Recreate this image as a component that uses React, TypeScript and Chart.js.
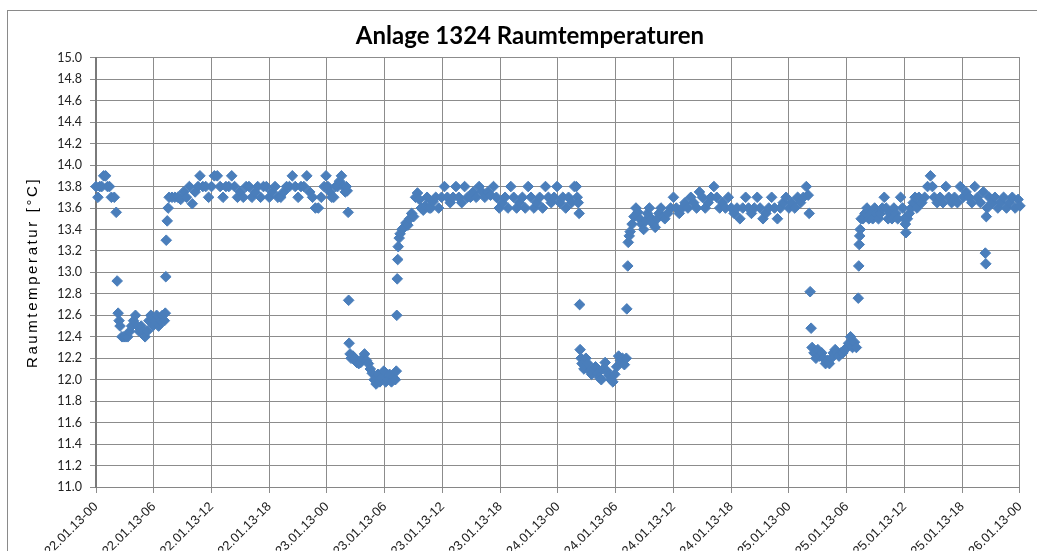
import React, { useEffect, useRef } from 'react';
import { Chart, registerables } from 'chart.js';

Chart.register(...registerables);

// Hours since 22.01.13 00:00 and room temperature [°C]
const day1Hours = [0.0, 0.2, 0.4, 0.6, 0.8, 1.0, 1.2, 1.4, 1.6, 1.9, 2.1, 2.2, 2.3, 2.4, 2.5, 2.7, 2.9, 3.1, 3.3, 3.5, 3.7, 3.9, 4.1, 4.3, 4.5, 4.7, 4.9, 5.1, 5.3, 5.5, 5.7, 5.9, 6.1, 6.3, 6.5, 6.7, 6.9, 7.1, 7.2, 7.25, 7.3, 7.4, 7.5, 7.6, 7.9, 8.2, 8.5, 8.8, 9.1, 9.4, 9.7, 10.0, 10.3, 10.6, 10.8, 11.1, 11.4, 11.7, 12.0, 12.3, 12.6, 12.9, 13.2, 13.5, 13.8, 14.1, 14.4, 14.7, 15.0, 15.3, 15.6, 15.9, 16.2, 16.5, 16.8, 17.1, 17.4, 17.7, 18.0, 18.3, 18.6, 18.9, 19.2, 19.5, 19.8, 20.1, 20.4, 20.7, 21.0, 21.3, 21.6, 21.9, 22.2, 22.5, 22.8, 23.1, 23.4, 23.7, 23.9];
const day1Temps = [13.8, 13.7, 13.8, 13.8, 13.9, 13.9, 13.8, 13.8, 13.7, 13.7, 13.56, 12.92, 12.62, 12.55, 12.5, 12.4, 12.4, 12.4, 12.4, 12.45, 12.5, 12.55, 12.6, 12.5, 12.45, 12.5, 12.45, 12.4, 12.45, 12.55, 12.6, 12.5, 12.55, 12.6, 12.5, 12.55, 12.6, 12.55, 12.62, 12.96, 13.3, 13.48, 13.6, 13.7, 13.7, 13.7, 13.7, 13.68, 13.75, 13.7, 13.8, 13.64, 13.75, 13.8, 13.9, 13.8, 13.8, 13.7, 13.8, 13.9, 13.9, 13.8, 13.7, 13.8, 13.8, 13.9, 13.8, 13.7, 13.75, 13.7, 13.8, 13.8, 13.7, 13.75, 13.8, 13.7, 13.8, 13.8, 13.7, 13.75, 13.8, 13.7, 13.7, 13.75, 13.8, 13.8, 13.9, 13.8, 13.7, 13.8, 13.8, 13.9, 13.75, 13.7, 13.6, 13.6, 13.7, 13.8, 13.9];

const day2Hours = [24.1, 24.3, 24.5, 24.7, 24.9, 25.1, 25.3, 25.5, 25.7, 25.9, 26.0, 26.1, 26.2, 26.25, 26.3, 26.4, 26.5, 26.7, 26.9, 27.1, 27.3, 27.5, 27.7, 27.9, 28.1, 28.3, 28.5, 28.7, 28.9, 29.1, 29.3, 29.5, 29.7, 29.9, 30.1, 30.3, 30.5, 30.7, 30.9, 31.1, 31.2, 31.25, 31.3, 31.35, 31.4, 31.5, 31.6, 31.8, 32.0, 32.2, 32.4, 32.6, 32.8, 33.0, 33.2, 33.4, 33.6, 33.8, 34.0, 34.2, 34.4, 34.6, 34.8, 35.0, 35.3, 35.6, 35.9, 36.2, 36.5, 36.8, 37.1, 37.4, 37.7, 38.0, 38.3, 38.6, 38.9, 39.2, 39.5, 39.8, 40.1, 40.4, 40.7, 41.0, 41.3, 41.6, 41.9, 42.2, 42.5, 42.8, 43.1, 43.4, 43.7, 44.0, 44.3, 44.6, 44.9, 45.2, 45.5, 45.8, 46.1, 46.4, 46.7, 47.0, 47.3, 47.6, 47.9];
const day2Temps = [13.8, 13.75, 13.7, 13.7, 13.8, 13.8, 13.85, 13.9, 13.8, 13.75, 13.8, 13.76, 13.56, 12.74, 12.34, 12.24, 12.2, 12.22, 12.2, 12.16, 12.15, 12.16, 12.2, 12.24, 12.18, 12.15, 12.1, 12.06, 12.0, 11.96, 12.05, 11.98, 12.02, 12.08, 11.98, 12.0, 12.05, 11.98, 12.02, 12.0, 12.08, 12.6, 12.94, 13.12, 13.24, 13.32, 13.36, 13.4, 13.42, 13.46, 13.44, 13.5, 13.55, 13.52, 13.7, 13.74, 13.68, 13.6, 13.58, 13.62, 13.7, 13.6, 13.6, 13.66, 13.7, 13.6, 13.7, 13.8, 13.7, 13.65, 13.7, 13.8, 13.7, 13.65, 13.8, 13.7, 13.7, 13.75, 13.7, 13.8, 13.75, 13.7, 13.75, 13.72, 13.8, 13.7, 13.6, 13.65, 13.7, 13.6, 13.8, 13.7, 13.6, 13.65, 13.7, 13.6, 13.8, 13.7, 13.6, 13.65, 13.7, 13.6, 13.8, 13.7, 13.65, 13.7, 13.8];

const day3Hours = [48.2, 48.5, 48.8, 49.1, 49.4, 49.7, 49.9, 50.0, 50.1, 50.2, 50.25, 50.3, 50.4, 50.5, 50.7, 50.9, 51.1, 51.3, 51.5, 51.7, 51.9, 52.1, 52.3, 52.5, 52.7, 52.9, 53.1, 53.3, 53.5, 53.7, 53.9, 54.1, 54.3, 54.5, 54.7, 54.9, 55.1, 55.15, 55.25, 55.3, 55.4, 55.5, 55.7, 55.9, 56.1, 56.3, 56.5, 56.7, 56.9, 57.1, 57.3, 57.5, 57.7, 57.9, 58.1, 58.3, 58.5, 58.7, 58.9, 59.1, 59.4, 59.7, 60.0, 60.3, 60.6, 60.9, 61.2, 61.5, 61.8, 62.1, 62.4, 62.7, 63.0, 63.3, 63.6, 63.9, 64.2, 64.5, 64.8, 65.1, 65.4, 65.7, 66.0, 66.3, 66.6, 66.9, 67.2, 67.5, 67.8, 68.1, 68.4, 68.7, 69.0, 69.3, 69.6, 69.9, 70.2, 70.5, 70.8, 71.1, 71.4, 71.7, 72.0];
const day3Temps = [13.65, 13.7, 13.6, 13.7, 13.65, 13.8, 13.8, 13.7, 13.65, 13.55, 12.7, 12.28, 12.2, 12.15, 12.1, 12.2, 12.15, 12.08, 12.05, 12.1, 12.12, 12.06, 12.02, 12.0, 12.1, 12.16, 12.08, 12.04, 12.0, 11.98, 12.05, 12.12, 12.22, 12.18, 12.2, 12.14, 12.2, 12.66, 13.06, 13.28, 13.34, 13.38, 13.45, 13.52, 13.6, 13.56, 13.5, 13.45, 13.4, 13.48, 13.55, 13.6, 13.5, 13.45, 13.42, 13.5, 13.55, 13.6, 13.52, 13.5, 13.55, 13.6, 13.7, 13.6, 13.55, 13.6, 13.65, 13.6, 13.7, 13.65, 13.6, 13.75, 13.7, 13.6, 13.65, 13.7, 13.8, 13.7, 13.6, 13.65, 13.6, 13.7, 13.6, 13.55, 13.6, 13.5, 13.6, 13.7, 13.6, 13.55, 13.6, 13.7, 13.6, 13.5, 13.55, 13.6, 13.7, 13.6, 13.5, 13.6, 13.65, 13.7, 13.6];

const day4Hours = [72.3, 72.6, 72.9, 73.2, 73.5, 73.8, 74.0, 74.1, 74.2, 74.3, 74.4, 74.6, 74.8, 75.0, 75.2, 75.4, 75.6, 75.8, 76.0, 76.2, 76.4, 76.6, 76.8, 77.0, 77.2, 77.4, 77.6, 77.8, 78.0, 78.2, 78.4, 78.6, 78.8, 79.0, 79.2, 79.25, 79.3, 79.35, 79.4, 79.5, 79.7, 79.9, 80.1, 80.3, 80.5, 80.7, 80.9, 81.1, 81.3, 81.5, 81.7, 81.9, 82.1, 82.3, 82.5, 82.7, 82.9, 83.1, 83.3, 83.6, 83.8, 84.0, 84.1, 84.15, 84.3, 84.5, 84.7, 84.9, 85.1, 85.3, 85.5, 85.8, 86.1, 86.4, 86.7, 86.9, 87.1, 87.4, 87.7, 88.0, 88.3, 88.6, 88.9, 89.2, 89.5, 89.8, 90.1, 90.4, 90.7, 91.0, 91.3, 91.6, 91.9, 92.2, 92.4, 92.45, 92.5, 92.6, 92.8, 93.1, 93.4, 93.7, 94.0, 94.3, 94.6, 94.9, 95.2, 95.5, 95.8, 96.0];
const day4Temps = [13.65, 13.6, 13.7, 13.65, 13.7, 13.8, 13.72, 13.55, 12.82, 12.48, 12.3, 12.25, 12.2, 12.28, 12.22, 12.25, 12.2, 12.15, 12.18, 12.15, 12.2, 12.25, 12.28, 12.25, 12.22, 12.25, 12.25, 12.28, 12.3, 12.34, 12.4, 12.3, 12.35, 12.3, 12.76, 13.06, 13.26, 13.34, 13.4, 13.5, 13.5, 13.55, 13.6, 13.5, 13.55, 13.5, 13.6, 13.55, 13.5, 13.55, 13.6, 13.7, 13.6, 13.5, 13.55, 13.5, 13.6, 13.55, 13.5, 13.7, 13.6, 13.5, 13.45, 13.37, 13.5, 13.55, 13.6, 13.65, 13.7, 13.6, 13.7, 13.65, 13.7, 13.8, 13.9, 13.8, 13.7, 13.65, 13.7, 13.65, 13.8, 13.7, 13.65, 13.7, 13.65, 13.8, 13.7, 13.75, 13.7, 13.65, 13.8, 13.7, 13.65, 13.75, 13.18, 13.08, 13.52, 13.6, 13.7, 13.65, 13.7, 13.6, 13.65, 13.7, 13.6, 13.65, 13.7, 13.6, 13.68, 13.62];

const xTickLabels = [
  '22.01.13-00', '22.01.13-06', '22.01.13-12', '22.01.13-18',
  '23.01.13-00', '23.01.13-06', '23.01.13-12', '23.01.13-18',
  '24.01.13-00', '24.01.13-06', '24.01.13-12', '24.01.13-18',
  '25.01.13-00', '25.01.13-06', '25.01.13-12', '25.01.13-18',
  '26.01.13-00',
];

const chartTitle = 'Anlage 1324 Raumtemperaturen';
const yAxisTitle = 'Raumtemperatur [°C]';

function zip(hours: number[], temps: number[]) {
  return hours.map((h, i) => ({ x: h, y: temps[i] }));
}

const framePlugin = {
  id: 'frame',
  beforeDraw(chart: any) {
    const ctx = chart.ctx;
    ctx.save();
    ctx.fillStyle = '#ffffff';
    ctx.fillRect(0, 0, chart.width, chart.height);
    ctx.strokeStyle = '#8a8a8a';
    ctx.lineWidth = 1;
    ctx.strokeRect(7.5, 10.5, chart.width + 20, chart.height + 20);
    ctx.restore();
  },
};

// widen the letter spacing of the y-axis title, as in the reference
function spaceYTitle(scale: any) {
  scale.width = 58;
  if (!scale.__spaced) {
    const orig = scale.drawTitle.bind(scale);
    scale.drawTitle = function () {
      const ctx = scale.ctx;
      ctx.save();
      (ctx as any).letterSpacing = '2.6px';
      orig();
      ctx.restore();
    };
    scale.__spaced = true;
  }
}

export default function App() {
  const canvasRef = useRef<HTMLCanvasElement | null>(null);

  useEffect(() => {
    if (!canvasRef.current) return;
    const allPoints = [
      ...zip(day1Hours, day1Temps),
      ...zip(day2Hours, day2Temps),
      ...zip(day3Hours, day3Temps),
      ...zip(day4Hours, day4Temps),
    ];
    const chart = new Chart(canvasRef.current, {
      type: 'scatter',
      data: {
        datasets: [
          {
            label: 'Raumtemperatur',
            data: allPoints,
            pointStyle: 'rectRot',
            pointRadius: 5.3,
            pointBackgroundColor: '#4a7ebb',
            pointBorderColor: '#4a7ebb',
            pointBorderWidth: 1,
            clip: false as any,
          },
        ],
      },
      options: {
        responsive: false,
        animation: false,
        layout: { padding: { top: 10, left: 38, right: 15, bottom: 0 } },
        plugins: {
          legend: { display: false },
          tooltip: { enabled: false },
          title: {
            display: true,
            text: chartTitle,
            color: '#000000',
            font: { family: 'Lato', size: 24, weight: 'bold' },
            padding: { top: 12, bottom: 7 },
          },
        },
        scales: {
          x: {
            type: 'linear',
            min: 0,
            max: 96,
            afterFit: (scale: any) => { scale.height = 113; },
            ticks: {
              stepSize: 6,
              autoSkip: false,
              maxRotation: 45,
              minRotation: 45,
              padding: 6,
              color: '#222222',
              font: { family: 'Liberation Sans', size: 13 },
              callback: (v: any) => xTickLabels[Math.round(Number(v) / 6)] ?? '',
            },
            grid: { color: '#8c8c8c', lineWidth: 1, tickLength: 6 },
            border: { color: '#868686', width: 1 },
          },
          y: {
            type: 'linear',
            min: 11,
            max: 15,
            afterFit: spaceYTitle,
            ticks: {
              stepSize: 0.2,
              autoSkip: false,
              padding: 8,
              color: '#222222',
              font: { family: 'Lato', size: 12.5 },
              callback: (v: any) => Number(v).toFixed(1),
            },
            grid: { color: '#8c8c8c', lineWidth: 1, tickLength: 6 },
            border: { color: '#7a7a7a', width: 2 },
            title: {
              display: true,
              text: yAxisTitle,
              color: '#000000',
              font: { family: 'Liberation Sans', size: 15 },
              padding: { top: -14, bottom: 0 },
            },
          },
        },
      },
      plugins: [framePlugin],
    });
    return () => chart.destroy();
  }, []);

  return (
    <div style={{ position: 'fixed', left: 0, top: 0, width: 1037, height: 551, overflow: 'hidden', background: '#fff' }}>
      <canvas ref={canvasRef} width={1037} height={600} style={{ display: 'block' }} />
    </div>
  );
}
